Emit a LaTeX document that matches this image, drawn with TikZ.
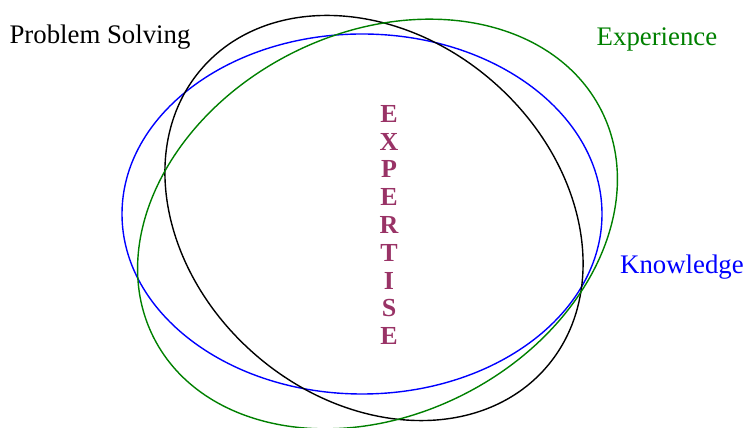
\documentclass[tikz,border=0pt]{standalone}
\usepackage{fontspec}
\setmainfont{Liberation Serif}
\definecolor{expcolor}{RGB}{153,51,102}
\definecolor{expgreen}{RGB}{0,128,0}
\begin{document}
\begin{tikzpicture}[x=.5pt,y=.5pt,line cap=round,line join=round,
  ring/.style={line width=.7pt},
  lbl/.style={font=\fontsize{13.4}{16}\selectfont,inner sep=0pt}]
  \useasboundingbox (0,0) rectangle (745,428);
  % the three sets
  \draw[ring,blue] (362,214) ellipse [x radius=240,y radius=180];
  \draw[ring,black,rotate around={-41:(374,210)}] (374,210) ellipse [x radius=228,y radius=181];
  \draw[ring,expgreen,rotate around={27:(377.5,204)}] (377.5,204) ellipse [x radius=251,y radius=191];
  % labels
  \node[lbl] (solving) at (100,391) {Problem Solving};
  \node[lbl,text=expgreen] (experience) at (657,389) {Experience};
  \node[lbl,text=blue] (knowledge) at (682,161) {Knowledge};
  \node[lbl,text=expcolor,align=center,font=\fontsize{13}{13.9}\selectfont\bfseries]
    (expertise) at (389,203) {E\\X\\P\\E\\R\\T\\I\\S\\E};
\end{tikzpicture}
\end{document}
